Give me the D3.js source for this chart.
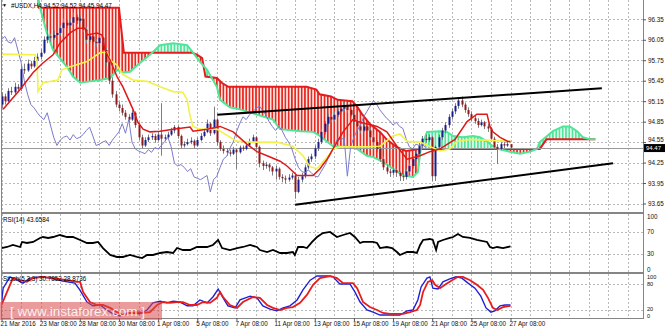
<!DOCTYPE html>
<html lang="en">
<head>
  <meta charset="UTF-8">
  <title>#USDX H4</title>
  <style>
    body { margin: 0; background: #fff; }
    svg { display: block; font-family: "Liberation Sans", Arial, sans-serif; }
  </style>
</head>
<body>
  <svg id="svg" width="665" height="330"></svg>
  <script src="https://cdn.jsdelivr.net/npm/d3@7"></script>
  <script>
    // H4 candles, bar 0 = 21 Mar 2016 00:00, bar 156 = 27 Apr 08:00
    const opens = [
      95.10,95.22,95.15,95.30,95.28,95.36,95.33,95.62,95.60,95.70,
      95.66,95.74,95.80,95.86,96.05,96.10,96.08,96.12,96.15,96.22,
      96.30,96.26,96.30,96.38,96.33,96.36,96.20,96.05,96.10,96.02,
      96.00,96.08,95.90,95.72,95.45,95.25,95.10,95.05,94.98,94.92,
      94.88,94.98,94.80,94.62,94.50,94.58,94.62,94.64,94.58,94.66,
      94.60,94.62,94.66,94.72,94.77,94.64,94.50,94.52,94.55,94.57,
      94.50,94.58,94.64,94.70,94.82,94.68,94.88,94.55,94.45,94.42,
      94.40,94.38,94.44,94.40,94.47,94.45,94.50,94.56,94.62,94.48,
      94.24,94.20,94.22,94.18,94.12,94.16,94.04,94.02,94.00,94.03,
      94.06,93.82,94.00,94.05,94.18,94.30,94.34,94.46,94.55,94.70,
      94.82,94.92,94.88,94.95,95.00,95.04,95.08,95.02,94.95,94.85,
      94.78,94.72,94.78,94.72,94.62,94.55,94.45,94.30,94.18,94.12,
      94.10,94.14,94.10,94.05,94.04,94.12,94.20,94.30,94.38,94.50,
      94.60,94.58,94.62,94.05,94.48,94.62,94.72,94.80,94.92,95.00,
      95.08,95.16,95.10,95.02,94.96,94.90,94.86,94.80,94.84,94.78,
      94.75,94.60,94.48,94.45,94.52,94.50,94.52]
    const highs = [
      95.28,95.26,95.34,95.36,95.42,95.40,95.68,95.70,95.76,95.74,
      95.80,95.85,95.92,96.10,96.16,96.14,96.18,96.20,96.26,96.36,
      96.34,96.36,96.45,96.42,96.40,96.38,96.24,96.14,96.12,96.06,
      96.12,96.10,95.94,95.76,95.50,95.30,95.14,95.10,95.02,94.96,
      95.02,95.00,94.84,94.66,94.62,94.66,94.68,94.67,94.70,95.12,
      94.66,94.70,94.76,94.80,94.79,94.66,94.56,94.60,94.62,94.59,
      94.62,94.68,94.74,94.88,94.84,95.07,94.90,94.58,94.50,94.46,
      94.44,94.48,94.46,94.50,94.50,94.54,94.60,94.66,94.64,94.50,
      94.28,94.26,94.24,94.20,94.20,94.18,94.08,94.06,94.08,94.10,
      94.08,94.04,94.10,94.22,94.34,94.38,94.50,94.60,94.74,94.86,
      94.96,94.96,95.00,95.04,95.08,95.14,95.10,95.04,94.98,94.88,
      94.80,94.84,94.80,94.76,94.66,94.58,94.48,94.34,94.22,94.16,
      94.20,94.16,94.12,94.10,94.16,94.24,94.34,94.42,94.54,94.64,
      94.66,94.66,94.64,94.50,94.66,94.76,94.84,94.96,95.04,95.12,
      95.20,95.22,95.13,95.06,95.00,94.94,94.90,94.88,94.86,94.82,
      94.77,94.63,94.52,94.56,94.55,94.56,94.52]
    const lows = [
      95.05,95.10,95.12,95.24,95.25,95.28,95.30,95.55,95.58,95.62,
      95.64,95.70,95.76,95.84,96.00,96.02,96.05,96.08,96.12,96.20,
      96.22,96.24,96.28,96.28,96.30,96.16,96.00,96.02,95.98,95.95,
      95.98,95.86,95.68,95.40,95.20,95.06,95.00,94.94,94.88,94.84,
      94.86,94.76,94.58,94.46,94.48,94.55,94.58,94.54,94.56,94.35,
      94.56,94.60,94.64,94.68,94.60,94.46,94.47,94.50,94.52,94.46,
      94.48,94.56,94.62,94.68,94.64,94.66,94.50,94.42,94.38,94.35,
      94.34,94.36,94.16,94.38,94.42,94.43,94.48,94.54,94.44,94.18,
      94.14,94.16,94.12,94.06,94.00,94.00,93.96,93.94,93.97,94.00,
      93.72,93.80,93.96,94.02,94.15,94.26,94.30,94.42,94.52,94.66,
      94.78,94.84,94.86,94.92,94.96,95.00,94.98,94.92,94.82,94.74,
      94.68,94.70,94.68,94.58,94.50,94.40,94.26,94.14,94.08,94.04,
      94.06,94.04,93.98,93.98,94.00,94.08,94.16,94.26,94.34,94.46,
      94.54,94.55,93.98,93.98,94.44,94.58,94.68,94.76,94.88,94.96,
      95.04,95.06,94.98,94.92,94.86,94.82,94.76,94.78,94.74,94.70,
      94.56,94.44,94.23,94.43,94.46,94.48,94.45]
    const closes = [
      95.22,95.15,95.30,95.28,95.36,95.33,95.62,95.60,95.70,95.66,
      95.74,95.80,95.86,96.05,96.10,96.08,96.12,96.15,96.22,96.30,
      96.26,96.30,96.38,96.33,96.36,96.20,96.05,96.10,96.02,96.00,
      96.08,95.90,95.72,95.45,95.25,95.10,95.05,94.98,94.92,94.88,
      94.98,94.80,94.62,94.50,94.58,94.62,94.64,94.58,94.66,94.60,
      94.62,94.66,94.72,94.77,94.64,94.50,94.52,94.55,94.57,94.50,
      94.58,94.64,94.70,94.82,94.68,94.88,94.55,94.45,94.42,94.40,
      94.38,94.44,94.40,94.47,94.45,94.50,94.56,94.62,94.48,94.24,
      94.20,94.22,94.18,94.12,94.16,94.04,94.02,94.00,94.03,94.06,
      93.82,94.00,94.05,94.18,94.30,94.34,94.46,94.55,94.70,94.82,
      94.92,94.88,94.95,95.00,95.04,95.08,95.02,94.95,94.85,94.78,
      94.72,94.78,94.72,94.62,94.55,94.45,94.30,94.18,94.12,94.10,
      94.14,94.10,94.05,94.04,94.12,94.20,94.30,94.38,94.50,94.60,
      94.58,94.62,94.05,94.48,94.62,94.72,94.80,94.92,95.00,95.08,
      95.16,95.10,95.02,94.96,94.90,94.86,94.80,94.84,94.78,94.75,
      94.60,94.48,94.45,94.52,94.50,94.52,94.47]

    // ichimoku lines, [bar, price]
    const tenkan = [[0.5,95.03],[5.7,95.32],[9.7,95.57],[12.7,95.71],[15.8,95.83],[17.9,96.00],[21,96.15],
      [23.4,96.22],[25.6,96.22],[26.2,96.12],[29.3,96.15],[30.8,96.12],[31.7,95.90],[33.3,95.75],[35.4,95.51],
      [37.2,95.36],[40.3,95.03],[41.8,94.84],[43.4,94.74],[45.5,94.70],[48.6,94.71],[52.6,94.74],[57.8,94.77],
      [58.7,94.71],[63,94.74],[67,94.78],[71,94.70],[75.2,94.52],[78.3,94.41],[81.4,94.35],[85.4,94.27],
      [87.5,94.20],[90.6,94.06],[95.5,94.06],[97.6,94.16],[99.8,94.30],[101.6,94.45],[104.7,94.70],
      [107.7,94.88],[109.9,94.84],[115.1,94.78],[118.1,94.70],[121.2,94.49],[124.3,94.30],[128.3,94.35],
      [131.3,94.41],[134.4,94.45],[139,94.59],[142.7,94.85],[145.7,94.96],[148.8,94.96],[149.7,94.78],
      [150.6,94.70],[152.8,94.62],[155.2,94.56],[156,94.56]]
    const kijun = [[0,95.84],[10.3,95.83],[10.9,95.75],[11.2,95.29],[12.7,95.42],[17.3,95.46],[18.5,95.61],
      [20.1,95.64],[26.2,95.73],[30.2,95.86],[32.3,95.87],[33.3,95.75],[35.4,95.68],[37.2,95.54],[40.3,95.46],
      [44.6,95.44],[48.6,95.36],[52.6,95.29],[55.6,95.28],[56.9,95.17],[57.8,94.93],[58.7,94.78],[60.8,94.74],
      [66,94.74],[72.2,94.56],[77.1,94.55],[84.4,94.55],[89.3,94.49],[92.4,94.35],[94.5,94.19],[96.7,94.16],
      [98.5,94.26],[100.7,94.38],[101.6,94.45],[103.7,94.48],[112,94.48],[116,94.49],[120,94.64],[122.1,94.67],
      [124.3,94.56],[128.3,94.55],[134.4,94.42],[137.4,94.45],[139.6,94.56],[143.6,94.59],[156,94.56]]
    const senkouA = [[0,96.92],[10.5,96.92],[11.2,96.63],[13.9,96.15],[15.8,95.90],[20.1,95.65],[21.9,95.51],
      [24.1,95.42],[27.1,95.44],[30.2,95.46],[33.3,95.49],[35.4,95.61],[37.2,95.57],[39.4,95.58],[42.4,95.71],
      [45.5,95.83],[48.6,95.97],[52.6,96.00],[56.9,95.97],[58.7,95.86],[60.8,95.73],[63,95.61],[66,95.36],
      [67,95.17],[70,95.06],[73.1,95.03],[83.2,94.88],[85.4,94.74],[91.5,94.71],[95.5,94.70],[97.6,94.64],
      [101.6,94.49],[105.9,94.48],[109,94.45],[112,94.35],[113.9,94.33],[116.9,94.26],[120,94.16],[123,94.06],
      [126.1,94.04],[127.6,94.11],[128.5,94.45],[129.8,94.62],[130.4,94.70],[134.4,94.71],[136.5,94.70],
      [138.4,94.64],[141.4,94.62],[144.5,94.64],[146.6,94.62],[148.8,94.56],[150.6,94.49],[152.2,94.45],
      [155.8,94.41],[158.9,94.38],[162,94.41],[164.1,94.45],[165,94.55],[167.2,94.64],[169,94.71],
      [172.1,94.78],[174.2,94.78],[176.4,94.71],[178.2,94.62],[180.4,94.59],[182,94.59]]
    const senkouB = [[0,96.77],[11,96.77],[11.5,96.52],[36,96.52],[37.5,95.86],[58.5,95.86],[60,95.83],
      [61.5,95.78],[62.5,95.51],[66,95.49],[67.5,95.42],[69.5,95.36],[93.5,95.36],[96.5,95.32],[97.5,95.25],
      [101,95.22],[103,95.17],[107.5,95.15],[109,95.07],[110.5,94.96],[113,94.81],[116,94.70],[118,94.59],
      [121,94.48],[124,94.42],[128,94.45],[165,94.45],[167,94.59],[182,94.59]]

    // oscillators, [bar, value]
    const rsi = [[0,40.7],[1.7,42.6],[3.5,46.3],[5.7,42.6],[6.3,51.9],[7.8,50],[9.7,51.9],[11.8,59.3],[12.7,61.1],
      [14.3,59.3],[15.8,61.1],[17.9,64.8],[20.1,61.1],[21.9,61.1],[24.1,55.6],[26.2,50],[28,50],[29.6,51.9],
      [31.1,40.7],[33.3,27.8],[35.4,24.1],[37.2,24.1],[39.4,27.8],[41.5,24.1],[43.1,22.2],[44.6,27.8],[46.4,27.8],
      [48.6,31.5],[50.7,33.3],[52.6,31.5],[53.8,40.7],[55.6,37],[57.8,37],[59.9,42.6],[63,42.6],[64.8,46.3],
      [66.4,55.6],[67.6,40.7],[70,37],[72.2,40.7],[74,42.6],[76.2,46.3],[78.3,42.6],[79.2,37],[81.4,33.3],
      [83.2,37],[85.4,31.5],[87.5,31.5],[89.3,33.3],[89.9,27.8],[90.9,42.6],[92.4,42.6],[93.6,40.7],[95.2,51.9],
      [96.7,61.1],[98.5,68.5],[100.7,70.4],[102.8,61.1],[104.7,64.8],[106.8,68.5],[108.3,61.1],[109.9,50],
      [110.8,51.9],[113.9,51.9],[115.1,50],[116,40.7],[118.1,42.6],[119.7,40.7],[121.2,33.3],[122.1,27.8],
      [124.3,33.3],[126.1,33.3],[127.3,31.5],[128.3,46.3],[129.2,55.6],[131.3,57.4],[132.2,55.6],[133.2,37],
      [133.8,51.9],[135.3,55.6],[137.4,59.3],[138.4,61.1],[139.9,66.7],[141.4,61.1],[143.6,59.3],[145.7,55.6],
      [148.8,51.9],[149.7,42.6],[150.6,40.7],[151.9,42.6],[153.7,40.7],[156,43.66]]
    const stochK = [[0,36],[0.5,71],[2.6,98],[4.8,90],[6.6,83],[8.7,95],[11.8,98],[14.9,95],[18.8,88],[22.5,83],
      [24,67],[26.2,38],[28,29],[30.2,31],[32.3,19],[34.2,10],[36.3,5],[38.5,12],[40.3,12],[42.4,10],[44.6,19],
      [46.4,36],[48.6,40],[50.7,36],[52.6,40],[54.7,38],[56.9,29],[58.7,29],[60.8,43],[63,36],[64.8,50],[66.4,69],
      [67.6,52],[69.4,29],[71.6,24],[73.1,43],[76.2,52],[78.3,48],[80.1,29],[82.3,21],[84.4,17],[86.3,24],
      [88.4,29],[90.6,43],[92.4,67],[94.6,90],[96.7,100],[99.8,100],[101.6,98],[103.7,81],[106.8,81],[108.3,62],
      [109.9,38],[112,19],[113.9,14],[116,7],[119.1,7],[122.1,7],[124.3,17],[126.1,19],[127.6,43],[128.6,74],
      [130.4,95],[131.3,98],[132.2,71],[133.8,69],[135.3,86],[137.4,93],[139.3,98],[141.1,95],[143,83],
      [145.1,71],[146.9,52],[148.5,24],[150,14],[151.2,17],[152.8,29],[154.3,31],[156,31]]
    const stochD = [[0,31],[1.7,62],[3.5,95],[5.7,90],[7.8,86],[9.7,95],[12.7,98],[15.8,95],[20.1,90],[23.1,86],
      [24.1,86],[25,62],[27.1,38],[29.3,31],[31.1,31],[33.3,24],[35.4,14],[37.2,7],[39.4,12],[41.5,14],[43.4,12],
      [45.5,14],[47.7,31],[49.5,38],[51.6,36],[53.8,38],[55.6,38],[57.8,31],[59.9,31],[61.8,38],[63.9,36],[66,48],
      [67,62],[67.9,50],[70,31],[72.2,24],[74,38],[77.1,50],[79.2,48],[81.4,31],[83.2,24],[85.4,19],[87.5,24],
      [89.3,26],[91.5,36],[93.6,55],[95.5,79],[97.6,95],[100.7,100],[102.8,95],[104.7,83],[107.7,83],[109,71],
      [110.8,38],[112.9,26],[115.1,19],[116.9,12],[119.1,10],[123.1,10],[125.2,14],[127.3,19],[128.3,31],
      [129.2,62],[130.7,86],[132,90],[132.9,79],[134.4,71],[135.9,79],[138.1,90],[139.9,98],[141.4,98],
      [143.6,90],[145.7,79],[147.6,67],[149.1,48],[150.6,24],[151.9,19],[153.7,26],[156,29]]

    // hand drawn channel, [bar, price]
    const trendUpper = [[66.1, 94.95], [184, 95.34]]
    const trendLower = [[90, 93.63], [187.4, 94.24]]

    const priceTicks = [93.65, 93.95, 94.25, 94.55, 94.85, 95.15, 95.45, 95.75, 96.05, 96.35]
    const lastPrice = 94.47
    const timeLabels = ['21 Mar 2016', '23 Mar 08:00', '28 Mar 08:00', '30 Mar 08:00', '1 Apr 08:00',
      '5 Apr 08:00', '7 Apr 08:00', '11 Apr 08:00', '13 Apr 08:00', '15 Apr 08:00', '19 Apr 08:00',
      '21 Apr 08:00', '25 Apr 08:00', '27 Apr 08:00']
    const rsiTicks = [100, 70, 30, 0]
    const stochTicks = [100, 80, 20, 0]
    const headerText = '#USDX,H4  94.52 94.52 94.45 94.47'
    const rsiText = 'RSI(14) 43.6584'
    const stochText = 'Stoch(5,3,3) 30.7852 28.8736'

    const right = 643
    const main = { top: 0, bottom: 212 }
    const rsiP = { top: 214, bottom: 272 }
    const stP = { top: 274, bottom: 318 }
    const fs = 6.3

    const x = d3.scaleLinear().domain([0, 156]).range([1.5, 510.5])
    const y = d3.scaleLinear().domain([93.65, 96.35]).range([203.5, 19.3])
    const yR = d3.scaleLinear().domain([0, 100]).range([270, 216])
    const yS = d3.scaleLinear().domain([0, 100]).range([318, 276])

    const svg = d3.select('#svg')
    const defs = svg.append('defs')

    function clipRect(id, top, bottom) {
      defs.append('clipPath').attr('id', id).append('rect')
        .attr('x', 1).attr('y', top).attr('width', right - 1).attr('height', bottom - top)
    }
    clipRect('cMain', main.top, main.bottom)
    clipRect('cRsi', rsiP.top, rsiP.bottom)
    clipRect('cSt', stP.top, stP.bottom)

    // hatch patterns for the cloud, one stripe per bar
    function hatch(id, bg, fg) {
      const p = defs.append('pattern').attr('id', id)
        .attr('patternUnits', 'userSpaceOnUse')
        .attr('x', x(0) - 0.8).attr('y', 0)
        .attr('width', x(1) - x(0)).attr('height', 20)
      p.append('rect').attr('width', x(1) - x(0)).attr('height', 20).attr('fill', bg)
      p.append('rect').attr('width', 1.6).attr('height', 20).attr('fill', fg)
    }
    hatch('hRed', '#ffe3e1', '#e5261d')
    hatch('hGreen', '#dcfbeb', '#4fe49c')

    const toPx = d => [x(d[0]), y(d[1])]
    defs.append('clipPath').attr('id', 'cAboveB').append('path')
      .attr('d', d3.area().x(d => x(d[0])).y0(-50).y1(d => y(d[1]))(senkouB))
    defs.append('clipPath').attr('id', 'cBelowB').append('path')
      .attr('d', d3.area().x(d => x(d[0])).y0(d => y(d[1])).y1(400)(senkouB))

    // grid
    const gridBars = d3.range(0, 193, 6)
    function vGrid(p) {
      svg.append('g').selectAll('line').data(gridBars).join('line')
        .attr('x1', d => Math.round(x(d)) + 0.5).attr('x2', d => Math.round(x(d)) + 0.5)
        .attr('y1', p.top).attr('y2', p.bottom)
        .attr('stroke', '#b9b9b9').attr('stroke-dasharray', '2,2')
    }
    function hGrid(vals, sc) {
      svg.append('g').selectAll('line').data(vals).join('line')
        .attr('x1', 1).attr('x2', right)
        .attr('y1', d => Math.round(sc(d)) + 0.5).attr('y2', d => Math.round(sc(d)) + 0.5)
        .attr('stroke', '#b9b9b9').attr('stroke-dasharray', '2,2')
    }
    vGrid(main); vGrid(rsiP); vGrid(stP)
    hGrid(priceTicks, y)
    hGrid([70, 30], yR)
    hGrid([80, 20], yS)

    const mainG = svg.append('g').attr('clip-path', 'url(#cMain)')

    // cloud
    const band = 'M' + senkouA.map(toPx).concat(senkouB.slice().reverse().map(toPx)).join('L') + 'Z'
    mainG.append('path').attr('d', band).attr('fill', 'url(#hGreen)').attr('clip-path', 'url(#cAboveB)')
    mainG.append('path').attr('d', band).attr('fill', 'url(#hRed)').attr('clip-path', 'url(#cBelowB)')

    const pl = d3.line().x(d => x(d[0])).y(d => y(d[1]))
    mainG.append('path').attr('d', pl(senkouB)).attr('fill', 'none').attr('stroke', '#e41c1c').attr('stroke-width', 2)
    mainG.append('path').attr('d', pl(senkouA)).attr('fill', 'none').attr('stroke', '#4ee697').attr('stroke-width', 2)

    // bid line
    mainG.append('line').attr('x1', 1).attr('x2', right)
      .attr('y1', Math.round(y(lastPrice)) + 0.5).attr('y2', Math.round(y(lastPrice)) + 0.5)
      .attr('stroke', '#9a9a9a')

    // candles
    const bars = closes.map((c, i) => ({ i, o: opens[i], h: highs[i], l: lows[i], c }))
    mainG.append('g').selectAll('line').data(bars).join('line')
      .attr('x1', d => Math.round(x(d.i)) + 0.5).attr('x2', d => Math.round(x(d.i)) + 0.5)
      .attr('y1', d => y(d.h)).attr('y2', d => y(d.l))
      .attr('stroke', '#7d7d7d')
    mainG.append('g').selectAll('rect').data(bars).join('rect')
      .attr('x', d => Math.round(x(d.i)) - 0.5).attr('width', 2)
      .attr('y', d => y(Math.max(d.o, d.c)))
      .attr('height', d => Math.max(1, Math.abs(y(d.o) - y(d.c))))
      .attr('fill', d => d.c >= d.o ? '#1b1b8e' : '#8e1a1a')

    // chikou: closes drawn 26 bars back
    const chikou = closes.slice(26).map((c, k) => [k, c])
    mainG.append('path').attr('d', pl(chikou)).attr('fill', 'none').attr('stroke', '#7b7bcb').attr('stroke-width', 1)
    mainG.append('path').attr('d', pl(kijun)).attr('fill', 'none').attr('stroke', '#f2f24a').attr('stroke-width', 1.6)
    mainG.append('path').attr('d', pl(tenkan)).attr('fill', 'none').attr('stroke', '#e01818').attr('stroke-width', 1.5)

    // channel
    mainG.append('path').attr('d', pl(trendUpper)).attr('stroke', '#000').attr('stroke-width', 2)
    mainG.append('path').attr('d', pl(trendLower)).attr('stroke', '#000').attr('stroke-width', 2)

    // RSI
    const rl = d3.line().x(d => x(d[0])).y(d => yR(d[1]))
    svg.append('path').attr('clip-path', 'url(#cRsi)').attr('d', rl(rsi))
      .attr('fill', 'none').attr('stroke', '#000').attr('stroke-width', 1.8)

    // stochastic
    const sl = d3.line().x(d => x(d[0])).y(d => yS(d[1]))
    svg.append('path').attr('clip-path', 'url(#cSt)').attr('d', sl(stochK))
      .attr('fill', 'none').attr('stroke', '#2020d2').attr('stroke-width', 1.4)
    svg.append('path').attr('clip-path', 'url(#cSt)').attr('d', sl(stochD))
      .attr('fill', 'none').attr('stroke', '#e81c1c').attr('stroke-width', 1.8)

    // frames
    const frame = svg.append('g').attr('stroke', '#858585').attr('fill', 'none')
    frame.append('line').attr('x1', 1.5).attr('x2', 1.5).attr('y1', 0).attr('y2', 318)
    frame.append('line').attr('x1', right + 0.5).attr('x2', right + 0.5).attr('y1', 0).attr('y2', 318)
    frame.append('line').attr('x1', 1).attr('x2', right).attr('y1', 213).attr('y2', 213).attr('stroke-width', 2)
    frame.append('line').attr('x1', 1).attr('x2', right).attr('y1', 273).attr('y2', 273).attr('stroke-width', 2)
    frame.append('line').attr('x1', 1).attr('x2', right + 1).attr('y1', 318.5).attr('y2', 318.5)

    // price axis
    const axR = svg.append('g').attr('transform', `translate(${right},0)`)
      .call(d3.axisRight(y).tickValues(priceTicks).tickSize(3).tickPadding(2).tickFormat(d3.format('.2f')))
    axR.select('.domain').remove()
    axR.selectAll('line').attr('stroke', '#555')
    axR.selectAll('text').attr('font-size', fs).attr('fill', '#111').attr('font-family', null)
      .attr('dy', d => d === 94.55 ? '-0.1em' : '0.32em')

    // last price tag
    svg.append('rect').attr('x', right + 1).attr('y', y(lastPrice) - 3.5).attr('width', 22).attr('height', 8).attr('fill', '#000')
    svg.append('text').attr('x', right + 3).attr('y', y(lastPrice) + 0.5).attr('dy', '0.34em')
      .attr('font-size', 6).attr('fill', '#fff').text(d3.format('.2f')(lastPrice))

    // oscillator scales
    function sideLabels(vals, sc, p, size) {
      svg.append('g').selectAll('text').data(vals).join('text')
        .attr('x', right + 4)
        .attr('y', d => Math.min(Math.max(sc(d), p.top + 3.5), p.bottom - 1.5))
        .attr('dy', '0.3em').attr('font-size', size).attr('fill', '#111')
        .text(d => d)
    }
    sideLabels(rsiTicks, yR, rsiP, fs)
    sideLabels(stochTicks, yS, stP, 5.6)

    // time axis
    const timeBars = d3.range(0, 157, 12)
    const axB = svg.append('g').attr('transform', 'translate(0,318)')
      .call(d3.axisBottom(x).tickValues(timeBars).tickSize(3).tickPadding(1).tickFormat((d, i) => timeLabels[i]))
    axB.select('.domain').remove()
    axB.selectAll('line').attr('stroke', '#555')
    axB.selectAll('text').attr('text-anchor', 'start').attr('dx', -1.5)
      .attr('font-size', fs).attr('fill', '#111').attr('font-family', null)

    // texts
    svg.append('text').attr('x', 2).attr('y', 7).attr('font-size', 5).attr('fill', '#000').text('\u25BC')
    svg.append('text').attr('x', 11).attr('y', 8).attr('font-size', fs).attr('fill', '#000').text(headerText)
    svg.append('text').attr('x', 3).attr('y', 222).attr('font-size', fs).attr('fill', '#000').text(rsiText)
    svg.append('text').attr('x', 3).attr('y', 281).attr('font-size', fs).attr('fill', '#000').text(stochText)

    // watermark
    svg.append('rect').attr('x', 0).attr('y', 302).attr('width', 162).attr('height', 18)
      .attr('fill', '#d84848').attr('opacity', 0.55)
    svg.append('text').attr('x', 10).attr('y', 316).attr('font-size', 13.5)
      .attr('fill', '#fff').attr('opacity', 0.85).text('[ www.instaforex.com ]')
  </script>
</body>
</html>
